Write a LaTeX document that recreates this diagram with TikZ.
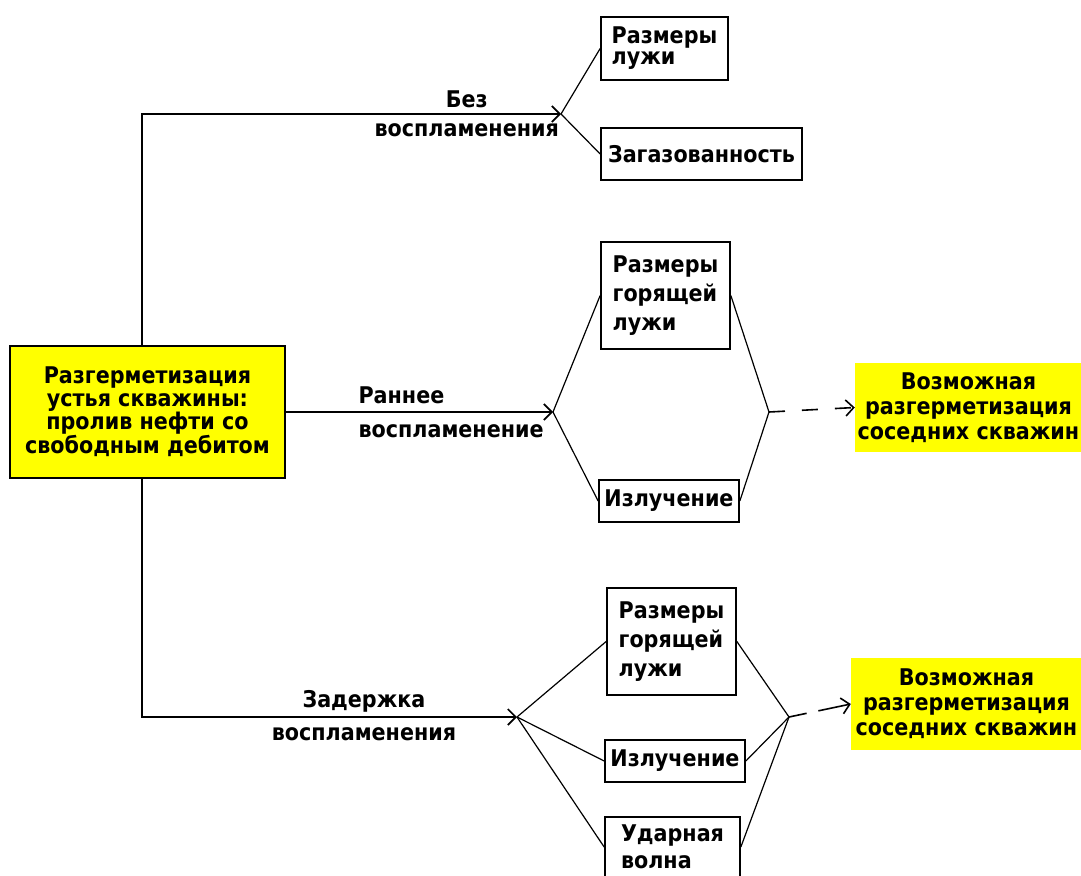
\documentclass[tikz,border=0pt]{standalone}
\usepackage{fontspec}
\setmainfont{DejaVu Sans Condensed}[BoldFont={DejaVu Sans Condensed Bold}]
\usetikzlibrary{arrows.meta}
\definecolor{SignalYellow}{HTML}{FFFF00}
\newcommand{\lbl}[1]{\bfseries\fontsize{23}{#1}\selectfont}

\begin{document}
\begin{tikzpicture}[x=1pt,y=-1pt,>={Straight Barb[length=8pt,width=16pt]},
  every node/.style={align=center,inner sep=0pt},
  stage/.style={draw,line width=1.7pt,align=left},
  hot/.style={fill=SignalYellow},
  feed/.style={line width=1.7pt},
  fan/.style={line width=1.2pt},
  dashlink/.style={line width=1.6pt,dash pattern=on 16pt off 17pt}]
  \useasboundingbox (0,0) rectangle (1081,875);
  \clip (0,0) rectangle (1081,875);
  % source event
  \node[draw,hot,line width=1.7pt,minimum width=275pt,minimum height=132pt,font=\lbl{23}] (src) at (147.5,412)
    {Разгерметизация\\устья скважины:\\пролив нефти со\\свободным дебитом};
  \coordinate (top) at (142,114);
  \coordinate (bot) at (142,717);
  \coordinate (tipA) at (561,114);
  \coordinate (tipB) at (553,412);
  \coordinate (tipC) at (517,717);
  \coordinate (jB) at (769,412);
  \coordinate (jC) at (789,717);
  % outcomes
  \node[stage,minimum width=127pt,minimum height=63pt,font=\lbl{21}] (b1) at (664.5,48.5) {Размеры\\лужи};
  \node[stage,minimum width=201pt,minimum height=52pt,font=\lbl{23}] (b2) at (701.5,154) {Загазованность};
  \node[stage,minimum width=129pt,minimum height=107pt,font=\lbl{29}] (b3) at (665.5,295.5) {Размеры\\горящей\\лужи};
  \node[stage,minimum width=140pt,minimum height=42pt,font=\lbl{23}] (b4) at (669,501) {Излучение};
  \node[stage,minimum width=129pt,minimum height=107pt,font=\lbl{29}] (b5) at (671.5,641.5) {Размеры\\горящей\\лужи};
  \node[stage,minimum width=140pt,minimum height=42pt,font=\lbl{23}] (b6) at (675,761) {Излучение};
  \node[stage,minimum width=135pt,minimum height=60pt,font=\lbl{27}] (b7) at (672.5,847) {Ударная\\волна};
  \node[hot,minimum width=227pt,minimum height=89pt,font=\lbl{25}] (y1) at (968.5,407.5) {Возможная\\разгерметизация\\соседних скважин};
  \node[hot,minimum width=231pt,minimum height=92pt,font=\lbl{25}] (y2) at (966.5,704) {Возможная\\разгерметизация\\соседних скважин};
  % branches
  \draw[feed,->] (src.north -| top) -- (top) -- (tipA)
    node[pos=0.775,anchor=base,yshift=7pt,font=\lbl{23}] (lA1) {Без}
    node[pos=0.775,anchor=base,yshift=-22pt,font=\lbl{23}] (lA2) {воспламенения};
  \draw[feed,->] (src.east) -- (tipB)
    node[pos=0.269,anchor=base west,yshift=9pt,font=\lbl{23}] (lB1) {Раннее}
    node[pos=0.269,anchor=base west,yshift=-25pt,font=\lbl{23}] (lB2) {воспламенение};
  \draw[feed,->] (src.south -| bot) -- (bot) -- (tipC)
    node[pos=0.592,anchor=base,yshift=10pt,font=\lbl{23}] (lC1) {Задержка}
    node[pos=0.592,anchor=base,yshift=-23pt,font=\lbl{23}] (lC2) {воспламенения};
  \draw[fan] (tipA) -- (b1.west);
  \draw[fan] (tipA) -- (b2.west);
  \draw[fan] (tipB) -- (b3.west);
  \draw[fan] (tipB) -- (b4.west);
  \draw[fan] (b3.east) -- (jB);
  \draw[fan] (b4.east) -- (jB);
  \draw[dashlink,->] (jB) -- (y1.west);
  \foreach \b in {b5,b6,b7}{
    \draw[fan] (tipC) -- (\b.west);
    \draw[fan] (\b.east) -- (jC);
  }
  \draw[dashlink,dash pattern=on 18pt off 12pt on 40pt,->] (jC) -- (y2.west);
\end{tikzpicture}
\end{document}
